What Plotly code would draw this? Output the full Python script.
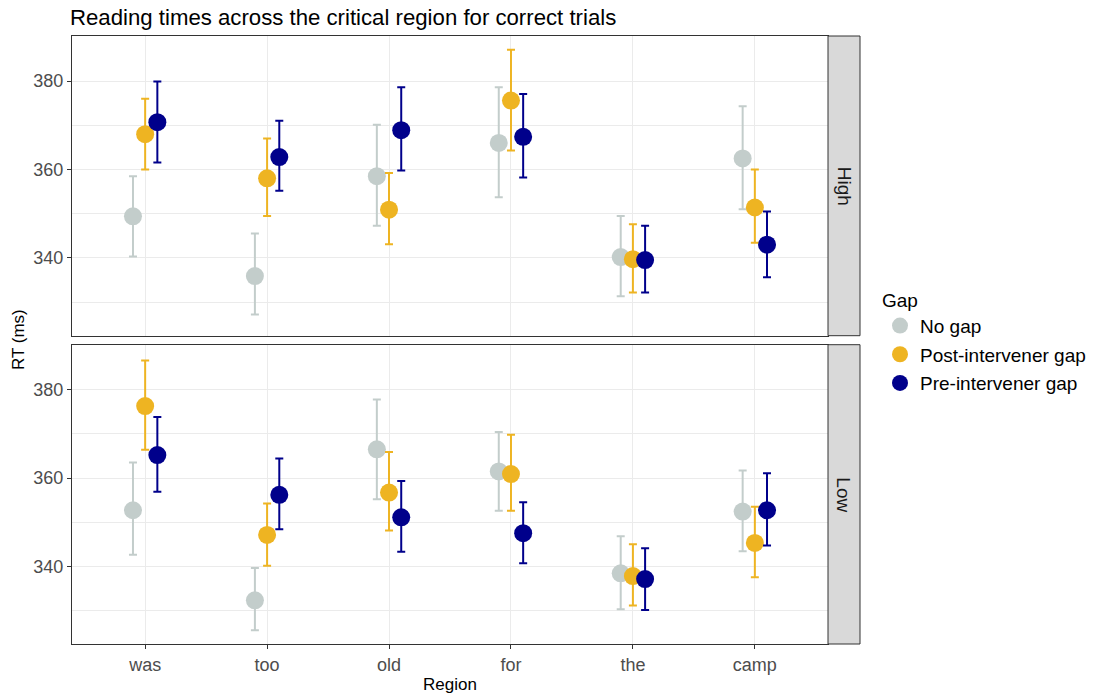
import plotly.graph_objects as go

regions = ["was", "too", "old", "for", "the", "camp"]
gaps = ["No gap", "Post-intervener gap", "Pre-intervener gap"]
colors = ["#C3CDCB", "#EEB422", "#00008B"]
offsets = [-0.1, 0.0, 0.1]

# High panel
no_gap_high = [349.4, 335.9, 358.5, 366.0, 340.2, 362.5]
no_gap_high_hi = [358.5, 345.5, 370.1, 378.6, 349.5, 374.3]
no_gap_high_lo = [340.3, 327.2, 347.3, 353.7, 331.3, 351.0]
post_high = [368.0, 358.0, 350.9, 375.6, 339.7, 351.4]
post_high_hi = [376.0, 367.0, 359.2, 387.1, 347.6, 360.0]
post_high_lo = [360.0, 349.5, 343.1, 364.3, 332.2, 343.4]
pre_high = [370.7, 362.8, 368.9, 367.4, 339.5, 343.0]
pre_high_hi = [379.9, 371.0, 378.6, 377.1, 347.3, 350.5]
pre_high_lo = [361.6, 355.2, 359.8, 358.2, 332.2, 335.6]

# Low panel
no_gap_low = [352.7, 332.3, 366.5, 361.5, 338.4, 352.4]
no_gap_low_hi = [363.5, 339.6, 377.8, 370.4, 346.8, 361.7]
no_gap_low_lo = [342.6, 325.5, 355.2, 352.6, 330.3, 343.4]
post_low = [376.3, 347.1, 356.7, 360.9, 337.8, 345.3]
post_low_hi = [386.6, 354.2, 365.9, 369.8, 345.0, 353.5]
post_low_lo = [366.4, 340.1, 348.1, 352.6, 331.1, 337.5]
pre_low = [365.2, 356.2, 351.1, 347.5, 337.1, 352.7]
pre_low_hi = [373.8, 364.4, 359.3, 354.5, 344.1, 361.1]
pre_low_lo = [356.9, 348.4, 343.3, 340.7, 330.1, 344.7]

high = [(no_gap_high, no_gap_high_hi, no_gap_high_lo),
        (post_high, post_high_hi, post_high_lo),
        (pre_high, pre_high_hi, pre_high_lo)]
low = [(no_gap_low, no_gap_low_hi, no_gap_low_lo),
       (post_low, post_low_hi, post_low_lo),
       (pre_low, pre_low_hi, pre_low_lo)]

fig = go.Figure()
base_x = list(range(1, len(regions) + 1))

for panel, (data, xa, ya, showleg) in enumerate([(high, "x2", "y2", True), (low, "x", "y", False)]):
    for i, (mean, hi, lo) in enumerate(data):
        xs = [b + offsets[i] for b in base_x]
        fig.add_trace(go.Scatter(
            x=xs, y=mean, mode="markers", name=gaps[i],
            legendgroup=gaps[i], showlegend=showleg,
            xaxis=xa, yaxis=ya,
            marker=dict(color=colors[i], size=18, line=dict(width=0)),
            error_y=dict(type="data", symmetric=False,
                         array=[h - m for h, m in zip(hi, mean)],
                         arrayminus=[m - l for m, l in zip(mean, lo)],
                         color=colors[i], thickness=2, width=4),
            hoverinfo="skip",
        ))

W, H = 1094, 696
ml, mr, mt, mb = 72, 234, 36, 52
pw = W - ml - mr
ph = H - mt - mb
panel_right = (828 - ml) / pw
low_top = (644 - 344.7) / ph
high_bottom = (644 - 335.7) / ph

yrange = [322.4, 390.2]
grid = "#EBEBEB"
border = "#333333"
FONT = "Liberation Sans, Arial, sans-serif"
tickfont = dict(family=FONT, size=18, color="#4D4D4D")

common_y = dict(range=yrange, tickvals=[340, 360, 380], showgrid=True, gridcolor=grid, gridwidth=1.2,
                minor=dict(tickmode="array", tickvals=[330, 350, 370, 390], showgrid=True,
                           gridcolor=grid, gridwidth=0.8, ticks=""),
                showline=True, mirror=True, linecolor=border, linewidth=1,
                ticks="outside", ticklen=4, tickcolor=border, tickwidth=1,
                tickfont=tickfont, zeroline=False)
common_x = dict(range=[0.4, 6.6], tickvals=base_x, ticktext=regions, showgrid=True,
                gridcolor=grid, gridwidth=1.2, showline=True, mirror=True, linecolor=border,
                linewidth=1, zeroline=False, domain=[0, panel_right])

fig.update_layout(
    width=W, height=H,
    margin=dict(l=ml, r=mr, t=mt, b=mb, autoexpand=False),
    paper_bgcolor="white", plot_bgcolor="white",
    font=dict(family=FONT, color="black"),
    title=dict(text="Reading times across the critical region for correct trials",
               x=70 / W, xanchor="left", xref="container",
               y=1 - 17 / H, yanchor="middle", yref="container",
               font=dict(size=22.2, color="black")),
    xaxis=dict(**common_x, anchor="y", ticks="outside", ticklen=4, tickcolor=border,
               tickfont=tickfont),
    xaxis2=dict(**common_x, anchor="y2", matches="x", showticklabels=False, ticks=""),
    yaxis=dict(**common_y, domain=[0, low_top], anchor="x"),
    yaxis2=dict(**common_y, domain=[high_bottom, 1], anchor="x2"),
    legend=dict(title=dict(text="Gap", font=dict(size=19, color="black")),
                font=dict(size=19, color="black"),
                x=(880 - ml) / pw, xanchor="left", y=(644 - 342) / ph, yanchor="middle",
                tracegroupgap=1, bgcolor="rgba(0,0,0,0)"),
    shapes=[
        dict(type="rect", xref="paper", yref="paper", x0=panel_right, x1=(860 - ml) / pw,
             y0=high_bottom, y1=1, fillcolor="#D9D9D9", line=dict(color=border, width=1)),
        dict(type="rect", xref="paper", yref="paper", x0=panel_right, x1=(860 - ml) / pw,
             y0=0, y1=low_top, fillcolor="#D9D9D9", line=dict(color=border, width=1)),
    ],
    annotations=[
        dict(text="High", xref="paper", yref="paper", x=(844 - ml) / pw, y=(high_bottom + 1) / 2,
             textangle=90, showarrow=False, font=dict(size=19, color="#1A1A1A"),
             xanchor="center", yanchor="middle"),
        dict(text="Low", xref="paper", yref="paper", x=(844 - ml) / pw, y=low_top / 2,
             textangle=90, showarrow=False, font=dict(size=19, color="#1A1A1A"),
             xanchor="center", yanchor="middle"),
        dict(text="RT (ms)", xref="paper", yref="paper", x=(18 - ml) / pw, y=0.5,
             textangle=-90, showarrow=False, font=dict(size=17, color="black"),
             xanchor="center", yanchor="middle"),
        dict(text="Region", xref="paper", yref="paper", x=panel_right / 2, y=(644 - 684) / ph,
             showarrow=False, font=dict(size=17, color="black"),
             xanchor="center", yanchor="middle"),
    ],
)

fig.write_html("out.html")
